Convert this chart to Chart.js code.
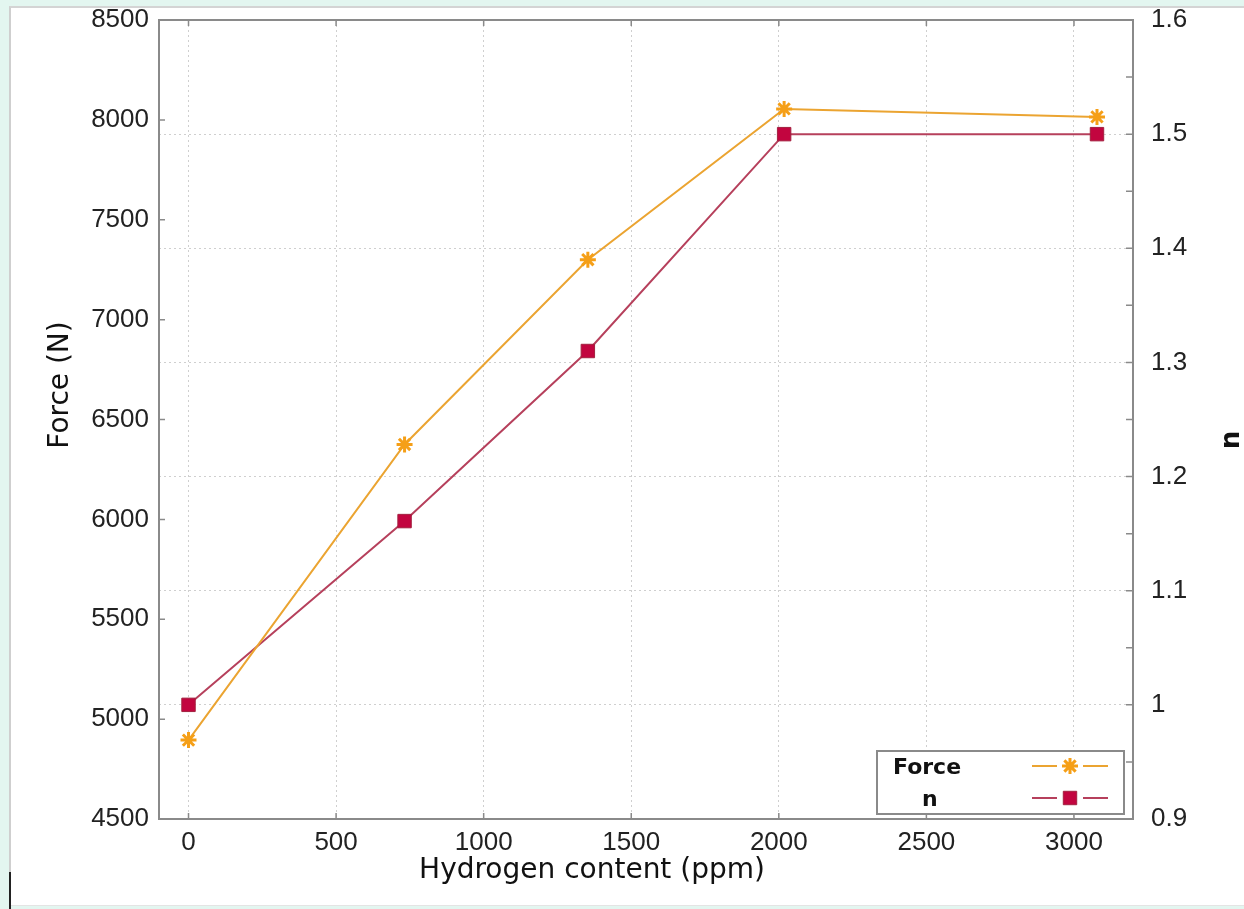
<!DOCTYPE html>
<html>
<head>
<meta charset="utf-8">
<title>Force and n vs hydrogen content</title>
<script src="https://cdn.jsdelivr.net/npm/chart.js@4.4.1/dist/chart.umd.min.js"></script>
<style>
    body {
        margin: 0;
        background: #e3f6f0;
        width: 1244px;
        height: 909px;
        overflow: hidden;
        position: relative;
    }
    #panel {
        position: absolute;
        left: 9px;
        top: 6px;
        right: 0;
        bottom: 3px;
        background: #fff;
        border-left: 2px solid #cfcfcf;
        border-top: 2px solid #d4d4d4;
        border-bottom: 1px solid #e4e4e4;
    }
    #mark {
        position: absolute;
        left: 9px;
        top: 872px;
        width: 2px;
        height: 37px;
        background: #222;
    }
    #wrap {
        position: absolute;
        left: 0;
        top: 0;
        width: 1244px;
        height: 909px;
    }
</style>
</head>
<body>
<div id="panel"></div>
<div id="mark"></div>
<div id="wrap"><canvas id="chart"></canvas></div>

<script>
// values
const hydrogen = [0, 732, 1353, 2018, 3078];
const force = [4895, 6375, 7300, 8055, 8015];
const nValues = [1.0, 1.161, 1.31, 1.5, 1.5];

const xTicks = [0, 500, 1000, 1500, 2000, 2500, 3000];
const forceTicks = [4500, 5000, 5500, 6000, 6500, 7000, 7500, 8000, 8500];
const nTicks = [0.9, 1.0, 1.1, 1.2, 1.3, 1.4, 1.5, 1.6];
const nTickLabels = ["0.9", "1", "1.1", "1.2", "1.3", "1.4", "1.5", "1.6"];

const ORANGE_LINE = "#eba431";
const ORANGE_MARK = "#f59f17";
const RED_LINE = "#b6405c";
const RED_MARK = "#c2053f";

const tickFont = { family: "'Liberation Sans', Arial, sans-serif", size: 26 };

/* ---------- frame, inward tick marks, axis titles ---------- */
const framePlugin = {
    id: "frame",
    afterDraw(chart) {
        const ctx = chart.ctx;
        const a = chart.chartArea;
        const sx = chart.scales.x, sy = chart.scales.y, sn = chart.scales.y1;

        ctx.save();
        ctx.strokeStyle = "#8a8a8a";
        ctx.lineWidth = 2;
        ctx.strokeRect(a.left, a.top, a.right - a.left, a.bottom - a.top);

        ctx.lineWidth = 1.5;
        ctx.beginPath();
        xTicks.forEach(v => {
            const px = sx.getPixelForValue(v);
            ctx.moveTo(px, a.bottom); ctx.lineTo(px, a.bottom - 6);
            ctx.moveTo(px, a.top); ctx.lineTo(px, a.top + 6);
        });
        forceTicks.forEach(v => {
            const py = sy.getPixelForValue(v);
            ctx.moveTo(a.left, py); ctx.lineTo(a.left + 6, py);
        });
        nTicks.forEach((v, i) => {
            const py = sn.getPixelForValue(v);
            ctx.moveTo(a.right, py); ctx.lineTo(a.right - 7, py);
            if (i < nTicks.length - 1) {
                const pm = sn.getPixelForValue((v + nTicks[i + 1]) / 2);
                ctx.moveTo(a.right, pm); ctx.lineTo(a.right - 7, pm);
            }
        });
        ctx.stroke();

        // axis titles
        ctx.fillStyle = "#111";
        ctx.font = "28px 'DejaVu Sans'";
        ctx.textAlign = "center";
        ctx.textBaseline = "middle";
        ctx.fillText("Hydrogen content (ppm)", 592, 871);

        ctx.save();
        ctx.translate(61, 385);
        ctx.rotate(-Math.PI / 2);
        ctx.fillText("Force (N)", 0, 0);
        ctx.restore();

        ctx.save();
        ctx.font = "bold 26px 'DejaVu Sans'";
        ctx.translate(1232, 440);
        ctx.rotate(-Math.PI / 2);
        ctx.fillText("n", 0, 0);
        ctx.restore();

        ctx.restore();
    }
};

/* ---------- legend box, bottom right ---------- */
const legendPlugin = {
    id: "boxLegend",
    afterDraw(chart) {
        const ctx = chart.ctx;
        const a = chart.chartArea;
        const w = 247, h = 63;
        const bx = a.right - 9 - w;
        const by = a.bottom - 5 - h;

        ctx.save();
        ctx.fillStyle = "#fff";
        ctx.fillRect(bx, by, w, h);
        ctx.strokeStyle = "#8a8a8a";
        ctx.lineWidth = 2;
        ctx.strokeRect(bx, by, w, h);

        ctx.font = "bold 22px 'DejaVu Sans'";
        ctx.textBaseline = "alphabetic";
        ctx.textAlign = "left";

        chart.data.datasets.forEach((ds, i) => {
            const rowY = by + 15 + i * 32;
            const textX = i === 0 ? bx + 16 : bx + 45;
            ctx.fillStyle = "#111";
            ctx.fillText(ds.label, textX, rowY + 8);

            const cx = bx + 193;
            ctx.strokeStyle = ds.borderColor;
            ctx.lineWidth = 2;
            ctx.beginPath();
            ctx.moveTo(cx - 38, rowY); ctx.lineTo(cx - 13, rowY);
            ctx.moveTo(cx + 13, rowY); ctx.lineTo(cx + 38, rowY);
            ctx.stroke();

            // drawPoint uses whatever fill/stroke is current
            ctx.fillStyle = ds.pointBackgroundColor;
            ctx.strokeStyle = ds.pointBorderColor;
            ctx.lineWidth = ds.pointBorderWidth;
            Chart.helpers.drawPoint(ctx, {
                pointStyle: ds.pointStyle,
                radius: ds.pointRadius,
                borderWidth: ds.pointBorderWidth
            }, cx, rowY);
        });
        ctx.restore();
    }
};

// no extra room for the end labels, the plot box is placed by hand
function noPad(s) {
    s.paddingTop = 0;
    s.paddingBottom = 0;
}

const ctx = document.getElementById("chart").getContext("2d");

const chart = new Chart(ctx, {
    type: "line",
    data: {
        datasets: [
            {
                label: "Force",
                data: hydrogen.map((h, i) => ({ x: h, y: force[i] })),
                yAxisID: "y",
                borderColor: ORANGE_LINE,
                borderWidth: 2,
                pointStyle: "star",
                pointRadius: 8,
                pointBorderWidth: 3,
                pointBorderColor: ORANGE_MARK,
                pointBackgroundColor: ORANGE_MARK,
                tension: 0
            },
            {
                label: "n",
                data: hydrogen.map((h, i) => ({ x: h, y: nValues[i] })),
                yAxisID: "y1",
                borderColor: RED_LINE,
                borderWidth: 2,
                pointStyle: "rect",
                pointRadius: 9.5,
                pointBorderWidth: 1,
                pointBorderColor: "#a3203f",
                pointBackgroundColor: RED_MARK,
                tension: 0
            }
        ]
    },
    options: {
        responsive: true,
        maintainAspectRatio: false,
        animation: false,
        layout: { padding: { top: 20, left: 0, right: 0, bottom: 0 } },
        plugins: {
            legend: { display: false },
            tooltip: { enabled: false }
        },
        scales: {
            x: {
                type: "linear",
                min: -100,
                max: 3200,
                afterBuildTicks: s => { s.ticks = xTicks.map(v => ({ value: v })); },
                afterFit: s => { s.height = 90; s.paddingLeft = 0; s.paddingRight = 0; },
                ticks: {
                    font: tickFont, color: "#222", padding: 8, maxRotation: 0,
                    callback: v => String(v)
                },
                grid: { color: "#cfcfcf", lineWidth: 1, drawTicks: false },
                border: { display: false, dash: [2, 3] }
            },
            y: {
                position: "left",
                min: 4500,
                max: 8500,
                afterBuildTicks: s => { s.ticks = forceTicks.map(v => ({ value: v })); },
                afterFit: s => { s.width = 159; noPad(s); },
                ticks: { font: tickFont, color: "#222", padding: 10, callback: v => String(v) },
                grid: { display: false, drawTicks: false },
                border: { display: false }
            },
            y1: {
                position: "right",
                min: 0.9,
                max: 1.6,
                afterBuildTicks: s => { s.ticks = nTicks.map(v => ({ value: v })); },
                afterFit: s => { s.width = 111; noPad(s); },
                ticks: {
                    font: tickFont,
                    color: "#222",
                    padding: 18,
                    callback: (v, i) => nTickLabels[i]
                },
                grid: { color: "#cfcfcf", lineWidth: 1, drawTicks: false },
                border: { display: false, dash: [2, 3] }
            }
        }
    },
    plugins: [framePlugin, legendPlugin]
});
</script>
</body>
</html>
